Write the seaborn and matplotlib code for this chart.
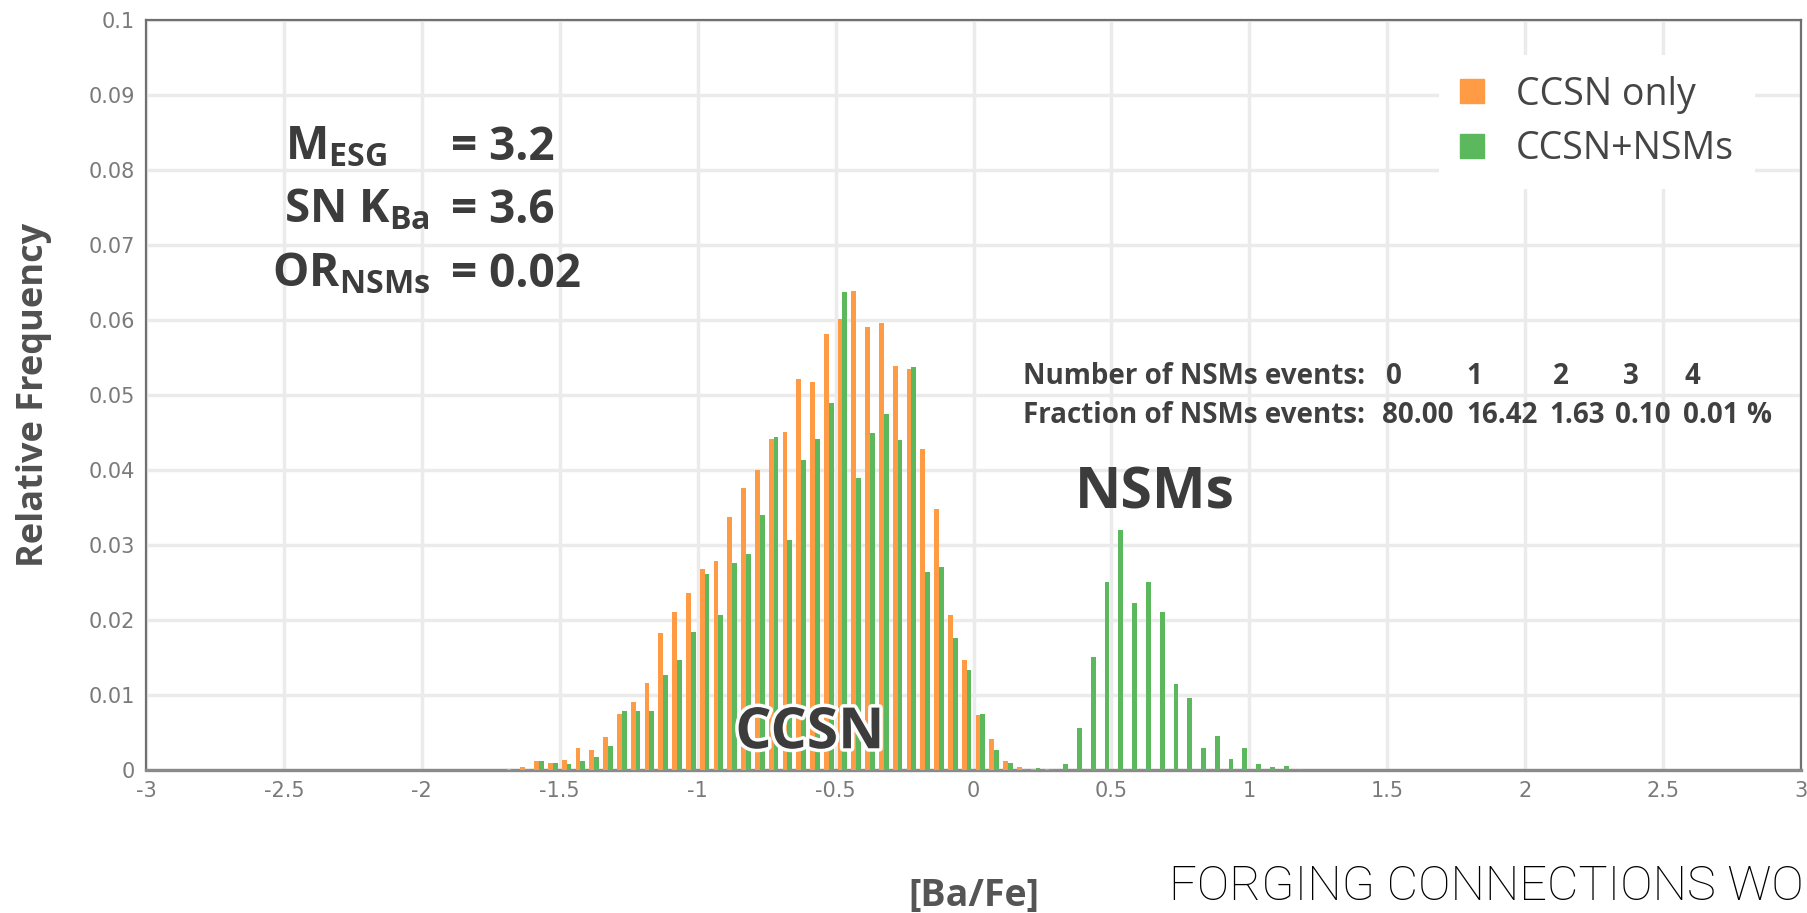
import numpy as np
import pandas as pd
import matplotlib
matplotlib.use("Agg")
import matplotlib.pyplot as plt
import seaborn as sns
from matplotlib.lines import Line2D
import matplotlib.patheffects as pe

# ---------------- data ----------------
bin_centers = [-1.675, -1.625, -1.575, -1.525, -1.475, -1.425, -1.375, -1.325,
               -1.275, -1.225, -1.175, -1.125, -1.075, -1.025, -0.975, -0.925,
               -0.875, -0.825, -0.775, -0.725, -0.675, -0.625, -0.575, -0.525,
               -0.475, -0.425, -0.375, -0.325, -0.275, -0.225, -0.175, -0.125,
               -0.075, -0.025, 0.025, 0.075, 0.125, 0.175, 0.225, 0.275,
               0.325, 0.375, 0.425, 0.475, 0.525, 0.575, 0.625, 0.675,
               0.725, 0.775, 0.825, 0.875, 0.925, 0.975, 1.025, 1.075,
               1.125, 1.175]
ccsn_only = [0.0002, 0.0004, 0.0012, 0.0009, 0.0014, 0.0029, 0.0027, 0.0044,
             0.0075, 0.0090, 0.0116, 0.0182, 0.0210, 0.0236, 0.0268, 0.0279,
             0.0337, 0.0376, 0.0400, 0.0441, 0.0450, 0.0521, 0.0517, 0.0581,
             0.0601, 0.0639, 0.0591, 0.0596, 0.0538, 0.0534, 0.0428, 0.0348,
             0.0207, 0.0147, 0.0073, 0.0042, 0.0012, 0.0004, 0.0002, 0.0001,
             0.0, 0.0, 0.0, 0.0, 0.0, 0.0, 0.0, 0.0,
             0.0, 0.0, 0.0, 0.0, 0.0, 0.0, 0.0, 0.0,
             0.0, 0.0]
ccsn_nsms = [0.0, 0.0001, 0.0012, 0.0010, 0.0008, 0.0012, 0.0017, 0.0032,
             0.0079, 0.0079, 0.0079, 0.0127, 0.0147, 0.0184, 0.0261, 0.0207,
             0.0276, 0.0288, 0.0340, 0.0444, 0.0306, 0.0413, 0.0441, 0.0489,
             0.0637, 0.0389, 0.0449, 0.0475, 0.0440, 0.0537, 0.0264, 0.0270,
             0.0176, 0.0133, 0.0075, 0.0027, 0.0010, 0.0002, 0.0003, 0.0002,
             0.0008, 0.0056, 0.0150, 0.0250, 0.0320, 0.0222, 0.0250, 0.0210,
             0.0114, 0.0096, 0.0029, 0.0045, 0.0015, 0.0030, 0.0008, 0.0004,
             0.0005, 0.0002]
series_names = ["CCSN only", "CCSN+NSMs"]

x_ticks = [-3, -2.5, -2, -1.5, -1, -0.5, 0, 0.5, 1, 1.5, 2, 2.5, 3]
x_tick_labels = ["-3", "-2.5", "-2", "-1.5", "-1", "-0.5", "0", "0.5", "1",
                 "1.5", "2", "2.5", "3"]
y_ticks = [0, 0.01, 0.02, 0.03, 0.04, 0.05, 0.06, 0.07, 0.08, 0.09, 0.1]
y_tick_labels = ["0", "0.01", "0.02", "0.03", "0.04", "0.05", "0.06", "0.07",
                 "0.08", "0.09", "0.1"]

nsm_event_numbers = ["0", "1", "2", "3", "4"]
nsm_event_fractions = ["80.00", "16.42", "1.63", "0.10", "0.01"]

# ---------------- style ----------------
sns.set_style("white")
plt.rcParams["font.family"] = ["Open Sans", "DejaVu Sans"]
plt.rcParams["axes.unicode_minus"] = False
plt.rcParams["mathtext.fontset"] = "custom"
plt.rcParams["mathtext.bf"] = "Open Sans:bold"
plt.rcParams["mathtext.rm"] = "Open Sans"
plt.rcParams["mathtext.it"] = "Open Sans:italic"

orange = "#FF9B45"
green = "#5CB85C"
dark = "#3c3c3c"

df = pd.DataFrame({
    "BaFe": bin_centers * 2,
    "freq": ccsn_only + ccsn_nsms,
    "series": [series_names[0]] * len(bin_centers) + [series_names[1]] * len(bin_centers),
})

fig = plt.figure(figsize=(18.07, 9.13), dpi=100)
ax = fig.add_axes([0.0808, 0.1566, 0.9159, 0.8219])

sns.barplot(data=df, x="BaFe", y="freq", hue="series", hue_order=series_names,
            palette=[orange, green], native_scale=True, width=0.70, dodge=True,
            errorbar=None, legend=False, saturation=1, linewidth=0, ax=ax,
            zorder=3)

ax.set_xlim(-3, 3)
ax.set_ylim(0, 0.1)
ax.set_xticks(x_ticks)
ax.set_xticklabels(x_tick_labels)
ax.set_yticks(y_ticks)
ax.set_yticklabels(y_tick_labels)
ax.set_xlabel("")
ax.set_ylabel("Relative Frequency", fontsize=26, fontweight="bold", color="#505050")
ax.yaxis.set_label_coords(-0.0565, 0.5)

ax.grid(True, color="#ebebeb", linewidth=2.5, zorder=0)
ax.set_axisbelow(True)
for s in ax.spines.values():
    s.set_color("#707070")
    s.set_linewidth(1.6)
ax.spines["bottom"].set_linewidth(2.4)
ax.spines["bottom"].set_color("#8a8a8a")

tick_font = ["Liberation Sans Narrow", "DejaVu Sans"]
ax.tick_params(axis="y", direction="out", length=6, width=1.2, color="#666666",
               labelsize=15, labelcolor="#7a7a7a", pad=2)
ax.tick_params(axis="x", direction="in", length=6, width=1.2, color="#666666",
               labelsize=15, labelcolor="#7a7a7a", pad=8)
for lab in ax.get_xticklabels() + ax.get_yticklabels():
    lab.set_family(tick_font)

# ---------------- parameter annotations ----------------
ptxt = dict(fontsize=33, fontweight="bold", color=dark, va="baseline", ha="left", zorder=5)
ax.text(-2.496, 0.0813, r"$\mathbf{M}_{\mathbf{ESG}}$", **ptxt)
ax.text(-2.500, 0.0729, r"SN K$_{\mathbf{Ba}}$", **ptxt)
ax.text(-2.543, 0.0644, r"OR$_{\mathbf{NSMs}}$", **ptxt)
ax.text(-1.895, 0.0813, "= 3.2", **ptxt)
ax.text(-1.895, 0.0729, "= 3.6", **ptxt)
ax.text(-1.895, 0.0644, "= 0.02", **ptxt)

# big labels
ax.text(-0.593, 0.0049, "CCSN", fontsize=41, fontweight="bold", color=dark,
        ha="center", va="center", zorder=6,
        path_effects=[pe.withStroke(linewidth=5, foreground="white")])
ax.text(0.657, 0.0369, "NSMs", fontsize=41, fontweight="bold", color=dark,
        ha="center", va="center", zorder=6)

# NSM events table
ttxt = dict(fontsize=20, fontweight="bold", color="#404040", va="center", zorder=5)
ax.text(1.42, 0.0524, "Number of NSMs events:", ha="right", **ttxt)
ax.text(1.42, 0.0472, "Fraction of NSMs events:", ha="right", **ttxt)
for xpos, lab in zip([1.525, 1.814, 2.129, 2.384, 2.607], nsm_event_numbers):
    ax.text(xpos, 0.0524, lab, ha="center", **ttxt)
for xpos, lab in zip([1.612, 1.916, 2.189, 2.426, 2.674], nsm_event_fractions):
    ax.text(xpos, 0.0472, lab, ha="center", **ttxt)
ax.text(2.847, 0.0472, "%", ha="center", **ttxt)

# legend
handles = [Line2D([], [], marker="s", linestyle="none", markersize=17,
                  markerfacecolor=c, markeredgecolor=c) for c in (orange, green)]
leg = ax.legend(handles, series_names, loc="upper right",
                bbox_to_anchor=(0.972, 0.953), borderaxespad=0, frameon=True,
                fontsize=27, handlelength=0.65, handletextpad=0.85,
                labelspacing=0.45, borderpad=0.55, labelcolor="#454545")
leg.get_frame().set_facecolor("white")
leg.get_frame().set_edgecolor("none")
leg.get_frame().set_alpha(1)
leg.set_zorder(4)

# x label and footer
fig.text(974 / 1807, 1 - 877 / 913, "[Ba/Fe]", fontsize=27, fontweight="bold",
         color="#555555", ha="center", va="top")
fig.text(0.998, 0.003, "FORGING CONNECTIONS WO",
         fontsize=35, fontweight="light", color="black", ha="right", va="bottom",
         family=["Roboto", "Liberation Sans", "DejaVu Sans"])

fig.savefig("out.png", dpi=100)
